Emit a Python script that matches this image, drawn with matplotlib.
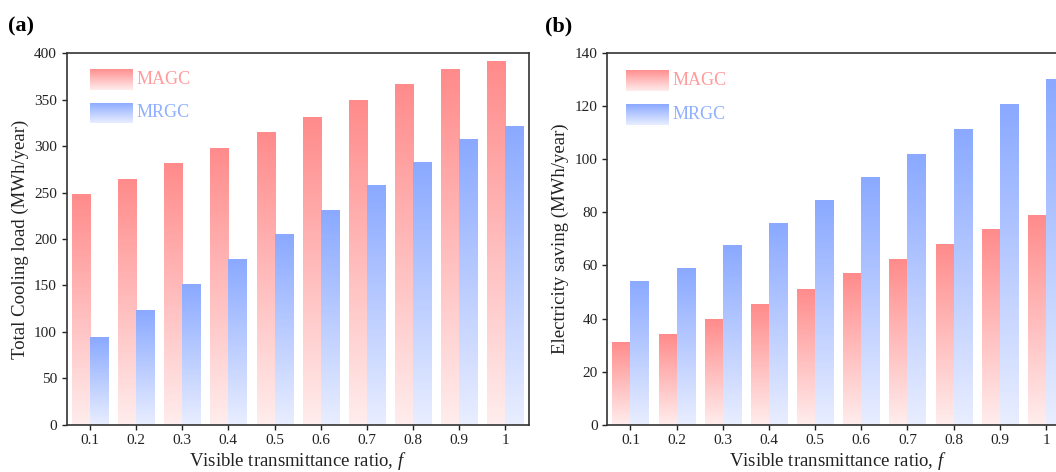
import numpy as np
import matplotlib
matplotlib.use("Agg")
import matplotlib.pyplot as plt
from matplotlib.colors import LinearSegmentedColormap

plt.rcParams['font.family'] = ['Liberation Serif', 'DejaVu Serif']
plt.rcParams['mathtext.fontset'] = 'custom'
plt.rcParams['mathtext.rm'] = 'Liberation Serif'
plt.rcParams['mathtext.it'] = 'Liberation Serif:italic'

ratios = ['0.1', '0.2', '0.3', '0.4', '0.5', '0.6', '0.7', '0.8', '0.9', '1']
series = ['MAGC', 'MRGC']

# total cooling load, MWh/year
cooling_magc = [248, 265, 282, 298.5, 315, 331, 349.5, 366.5, 383, 391.5]
cooling_mrgc = [94, 123, 151, 178, 205, 231, 258, 283, 308, 322]

# electricity saving, MWh/year
saving_magc = [31.3, 34.2, 39.7, 45.4, 51.3, 57.1, 62.3, 68.1, 73.6, 79.0]
saving_mrgc = [54.3, 59.2, 67.6, 75.9, 84.7, 93.4, 102.1, 111.6, 120.8, 130.4]

red_map = LinearSegmentedColormap.from_list('red_fade', ['#ffeded', '#ff8b8b'])
blue_map = LinearSegmentedColormap.from_list('blue_fade', ['#e9eeff', '#8aa9ff'])
text_colors = ['#ff9b9b', '#8fb0ff']
grad = np.linspace(0, 1, 256).reshape(-1, 1)

width = 0.39
x = np.arange(len(ratios))

fig = plt.figure(figsize=(10.56, 4.72), dpi=100)
ax1 = fig.add_axes([0.0632, 0.1004, 0.4373, 0.7866])
ax2 = fig.add_axes([0.5751, 0.1004, 0.4373, 0.7866])


def gradient_bars(ax, xpos, vals, cmap):
    # bars are only outlines for clipping; the fill is a vertical gradient image
    bars = ax.bar(xpos, vals, width, color='none', edgecolor='none', zorder=3)
    for b in bars:
        im = ax.imshow(grad, cmap=cmap, origin='lower', aspect='auto', zorder=2,
                       interpolation='bilinear',
                       extent=[b.get_x() - 0.05, b.get_x() + b.get_width() + 0.05,
                               0, b.get_height()])
        im.set_clip_path(b)


def legend_box(ax, x0, y0, w, h, cmap, label, color):
    lax = ax.inset_axes([x0, y0, w, h])
    lax.imshow(grad, cmap=cmap, origin='lower', aspect='auto')
    lax.axis('off')
    ax.text(x0 + w + 0.011, y0 + h / 2, label, transform=ax.transAxes,
            color=color, fontsize=13, va='center', ha='left')


def setup(ax, magc, mrgc, ymax, step, ylabel, legend_x, legend_ys):
    gradient_bars(ax, x - width / 2, magc, red_map)
    gradient_bars(ax, x + width / 2, mrgc, blue_map)
    ax.set_xlim(-0.5, len(ratios) - 0.5)
    ax.set_ylim(0, ymax)
    ax.set_xticks(x)
    ax.set_xticklabels(ratios)
    ax.set_yticks(np.arange(0, ymax + 1, step))
    ax.tick_params(direction='out', length=3.5, width=1, labelsize=11, colors='#222222')
    for s in ax.spines.values():
        s.set_linewidth(1.2)
        s.set_color('#333333')
    ax.set_xlabel('Visible transmittance ratio, $f$', fontsize=13.5, color='#222222', labelpad=2)
    ax.set_ylabel(ylabel, fontsize=13.5, color='#222222', labelpad=4)
    legend_box(ax, legend_x, legend_ys[0], 0.091, 0.057, red_map, series[0], text_colors[0])
    legend_box(ax, legend_x, legend_ys[1], 0.091, 0.055, blue_map, series[1], text_colors[1])


setup(ax1, cooling_magc, cooling_mrgc, 400, 50, 'Total Cooling load (MWh/year)', 0.050, (0.901, 0.812))
setup(ax2, saving_magc, saving_mrgc, 140, 20, 'Electricity saving (MWh/year)', 0.040, (0.899, 0.808))

fig.text(0.008, 0.944, '(a)', fontsize=16, fontweight='bold', va='center')
fig.text(0.516, 0.944, '(b)', fontsize=16, fontweight='bold', va='center')

fig.savefig('out.png', dpi=100)
